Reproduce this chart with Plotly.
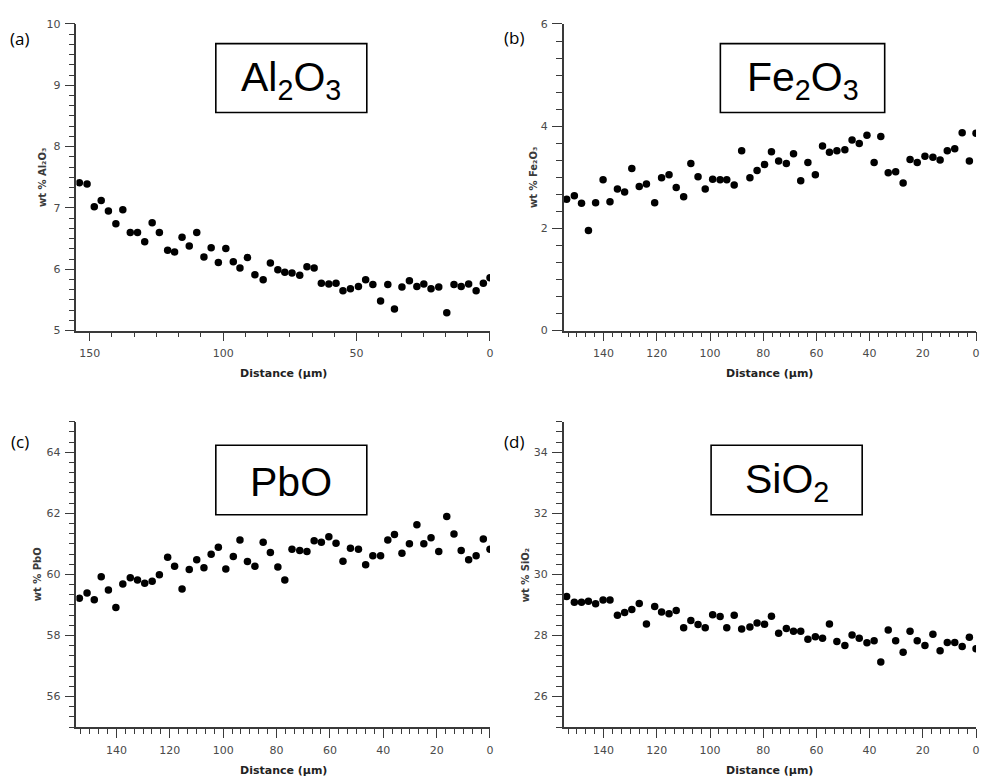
import plotly.graph_objects as go

# ---------------- data ----------------
distance_um = [153.9, 151.0, 148.3, 145.7, 143.0, 140.2, 137.6, 134.8, 132.1, 129.4,
               126.6, 123.9, 120.8, 118.2, 115.4, 112.7, 109.9, 107.2, 104.5, 101.8,
               99.0, 96.2, 93.7, 90.9, 88.1, 85.0, 82.3, 79.5, 76.9, 74.2,
               71.3, 68.6, 65.9, 63.2, 60.4, 57.7, 55.1, 52.3, 49.3, 46.6,
               43.9, 41.0, 38.3, 35.8, 33.0, 30.2, 27.4, 24.8, 22.1, 19.2,
               16.2, 13.5, 10.8, 8.0, 5.2, 2.5, 0.0]

al2o3 = [7.41, 7.39, 7.02, 7.12, 6.95, 6.74, 6.97, 6.60, 6.60, 6.45,
         6.76, 6.60, 6.31, 6.28, 6.52, 6.38, 6.60, 6.20, 6.35, 6.11,
         6.34, 6.12, 6.02, 6.19, 5.91, 5.83, 6.10, 5.99, 5.95, 5.94,
         5.90, 6.04, 6.02, 5.77, 5.76, 5.77, 5.65, 5.68, 5.72, 5.83,
         5.75, 5.48, 5.75, 5.35, 5.71, 5.81, 5.72, 5.76, 5.68, 5.71,
         5.29, 5.75, 5.72, 5.76, 5.65, 5.77, 5.86]

fe2o3 = [2.57, 2.64, 2.49, 1.96, 2.50, 2.95, 2.52, 2.77, 2.71, 3.17,
         2.82, 2.87, 2.50, 2.99, 3.05, 2.80, 2.62, 3.27, 3.01, 2.77,
         2.96, 2.95, 2.95, 2.85, 3.52, 2.99, 3.13, 3.25, 3.50, 3.32,
         3.27, 3.46, 2.93, 3.29, 3.05, 3.61, 3.49, 3.52, 3.54, 3.73,
         3.66, 3.82, 3.29, 3.80, 3.09, 3.11, 2.89, 3.35, 3.29, 3.41,
         3.39, 3.34, 3.52, 3.56, 3.87, 3.32, 3.86]

pbo = [59.22, 59.39, 59.17, 59.92, 59.49, 58.92, 59.69, 59.89, 59.82, 59.71,
       59.78, 59.99, 60.56, 60.27, 59.52, 60.16, 60.48, 60.22, 60.66, 60.89,
       60.18, 60.59, 61.13, 60.42, 60.27, 61.05, 60.72, 60.24, 59.82, 60.82,
       60.78, 60.75, 61.10, 61.05, 61.23, 61.02, 60.43, 60.86, 60.82, 60.32,
       60.61, 60.61, 61.13, 61.31, 60.69, 61.00, 61.63, 61.00, 61.20, 60.75,
       61.90, 61.32, 60.78, 60.48, 60.61, 61.16, 60.82]

sio2 = [29.28, 29.09, 29.09, 29.12, 29.04, 29.16, 29.16, 28.66, 28.75, 28.85,
        29.05, 28.38, 28.95, 28.77, 28.71, 28.82, 28.25, 28.49, 28.36, 28.25,
        28.68, 28.62, 28.25, 28.66, 28.21, 28.28, 28.41, 28.37, 28.63, 28.07,
        28.23, 28.14, 28.14, 27.88, 27.96, 27.91, 28.38, 27.80, 27.67, 28.02,
        27.91, 27.76, 27.83, 27.13, 28.18, 27.83, 27.45, 28.14, 27.83, 27.67,
        28.04, 27.50, 27.77, 27.77, 27.64, 27.94, 27.57]

panel_letters = ["(a)", "(b)", "(c)", "(d)"]
box_labels = ["Al<sub>2</sub>O<sub>3</sub>", "Fe<sub>2</sub>O<sub>3</sub>", "PbO", "SiO<sub>2</sub>"]
y_titles = ["wt % Al₂O₃", "wt % Fe₂O₃", "wt % PbO", "wt % SiO₂"]
x_title = "Distance (µm)"
y_ranges = [[5, 10], [0, 6], [55, 65], [25, 35]]
y_dticks = [1, 2, 2, 2]
x_dticks = [50, 20, 20, 20]
series = [al2o3, fe2o3, pbo, sio2]

# ---------------- layout geometry (pixels) ----------------
W, H = 984, 784
def fx(x):
    return x / W
def fy(y):
    return 1 - y / H

x_dom_px = [(76.7, 492.0), (566.0, 980.0), (76.7, 492.0), (566.0, 980.0)]
y_dom_px = [(18.3, 330.0), (18.3, 330.0), (422.7, 733.3), (422.7, 733.3)]
boxes_px = [(216.7, 38.3, 368.3, 108.3), (723.3, 38.3, 888.3, 108.3),
            (216.7, 446.7, 368.3, 517.3), (714.0, 446.7, 865.7, 517.3)]
letter_px = [(20, 33), (516, 32), (20, 443), (516, 443)]
ytitle_x_px = [42, 535, 38, 528]

axis_color = "#3a3a3a"
tick_font = dict(family="DejaVu Sans", size=11, color="#4a4a4a")

fig = go.Figure()
layout = dict(
    width=W, height=H, margin=dict(l=0, r=0, t=0, b=0),
    paper_bgcolor="white", plot_bgcolor="white", showlegend=False,
    annotations=[], shapes=[],
)

for i in range(4):
    k = "" if i == 0 else str(i + 1)
    xa, ya = "x" + k, "y" + k
    fig.add_trace(go.Scatter(
        x=distance_um, y=series[i], mode="markers", xaxis=xa, yaxis=ya,
        marker=dict(color="black", size=7.5, line=dict(width=0)),
    ))
    x0, x1 = x_dom_px[i]
    yt, yb = y_dom_px[i]
    layout["xaxis" + k] = dict(
        domain=[fx(x0), fx(x1)], anchor=ya, range=[155, 0],
        showgrid=False, zeroline=False, showline=True, linecolor=axis_color, linewidth=1.5,
        ticks="outside", ticklen=9, tickwidth=1.3, tickcolor=axis_color,
        tick0=0, dtick=x_dticks[i], tickfont=tick_font, ticklabeloverflow="allow",
        ticklabelstandoff=3,
        minor=dict(ticks="outside", ticklen=5, tickwidth=1.1, tickcolor=axis_color,
                   tick0=0, dtick=x_dticks[i] / 6, showgrid=False),
    )
    layout["yaxis" + k] = dict(
        domain=[fy(yb), fy(yt)], anchor=xa, range=y_ranges[i],
        showgrid=False, zeroline=False, showline=True, linecolor=axis_color, linewidth=1.5,
        ticks="outside", ticklen=10, tickwidth=1.3, tickcolor=axis_color,
        tick0=0, dtick=y_dticks[i], tickfont=tick_font, ticklabeloverflow="allow",
        ticklabelstandoff=2,
        minor=dict(ticks="outside", ticklen=6, tickwidth=1.1, tickcolor=axis_color,
                   tick0=0, dtick=y_dticks[i] / 6, showgrid=False),
    )
    # x title
    layout["annotations"].append(dict(
        text="<b>" + x_title + "</b>", xref="paper", yref="paper",
        x=fx((x0 + x1) / 2), y=fy(yb + 44), xanchor="center", yanchor="middle",
        showarrow=False, font=dict(family="DejaVu Sans", size=11, color="#222222"),
    ))
    # y title
    layout["annotations"].append(dict(
        text="<b>" + y_titles[i] + "</b>", xref="paper", yref="paper", textangle=-90,
        x=fx(ytitle_x_px[i]), y=fy((yt + yb) / 2), xanchor="center", yanchor="middle",
        showarrow=False, font=dict(family="DejaVu Sans", size=10, color="#3a3a3a"),
    ))
    # panel letter
    lx, ly = letter_px[i]
    layout["annotations"].append(dict(
        text=panel_letters[i], xref="paper", yref="paper",
        x=fx(lx), y=fy(ly), xanchor="center", yanchor="middle",
        showarrow=False, font=dict(family="Open Sans", size=17, color="black"),
    ))
    # boxed compound label
    bx0, by0, bx1, by1 = boxes_px[i]
    layout["shapes"].append(dict(
        type="rect", xref="paper", yref="paper",
        x0=fx(bx0), x1=fx(bx1), y0=fy(by1), y1=fy(by0),
        line=dict(color="black", width=1.6), fillcolor="white", layer="above",
    ))
    layout["annotations"].append(dict(
        text=box_labels[i], xref="paper", yref="paper",
        x=fx((bx0 + bx1) / 2), y=fy((by0 + by1) / 2 + 2), xanchor="center", yanchor="middle",
        showarrow=False, font=dict(family="Liberation Sans", size=41, color="black"),
    ))

fig.update_layout(**layout)
fig.write_html(
    "out.html",
    config={"displayModeBar": False},
    post_script="document.body.style.margin='0';document.body.style.overflow='hidden';",
)
